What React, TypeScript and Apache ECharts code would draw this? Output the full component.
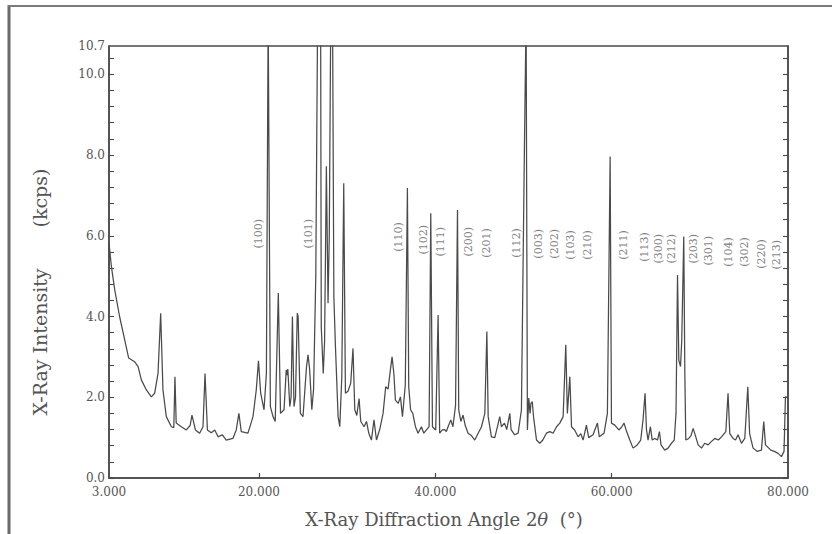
import React, { useEffect, useRef } from "react";
import * as echarts from "echarts";

// 2θ angle (degrees)
const angles: number[] = [
  3.0, 3.27, 3.65, 4.2, 4.78, 5.23, 5.9, 6.3, 6.67, 7.24, 7.8, 8.18, 8.56, 8.86, 9.12, 9.5,
  10.07, 10.35, 10.48, 10.62, 11.2, 11.77, 12.2, 12.41, 12.8, 13.28, 13.66, 13.89, 14.16, 14.6,
  14.99, 15.37, 15.85, 16.3, 17.05, 17.43, 17.73, 18.0, 18.76, 19.33, 19.7, 19.95, 20.2, 20.58,
  20.85, 21.05, 21.3, 21.6, 21.85, 22.2, 22.45, 22.85, 23.1, 23.2, 23.28, 23.5, 23.65, 23.8,
  23.98, 24.15, 24.35, 24.45, 24.7, 25.0, 25.4, 25.57, 25.75, 26.0, 26.2, 26.45, 26.66, 26.85,
  27.0, 27.07, 27.3, 27.45, 27.65, 27.84, 27.98, 28.15, 28.35, 28.5, 28.68, 28.98, 29.17, 29.4,
  29.62, 29.81, 30.1, 30.41, 30.67, 30.87, 31.1, 31.36, 31.55, 31.93, 32.2, 32.46, 32.76, 33.05,
  33.33, 33.7, 34.08, 34.38, 34.65, 34.91, 35.1, 35.3, 35.48, 35.8, 36.05, 36.28, 36.6, 36.84,
  36.99, 37.2, 37.45, 37.75, 38.05, 38.43, 38.7, 39.0, 39.3, 39.49, 39.68, 40.05, 40.32, 40.5,
  40.8, 41.07, 41.26, 41.45, 41.76, 42.0, 42.3, 42.52, 42.66, 42.9, 43.15, 43.4, 43.72, 44.1,
  44.48, 44.85, 45.24, 45.62, 45.85, 46.0, 46.37, 46.75, 47.05, 47.31, 47.5, 47.85, 48.1, 48.45,
  48.6, 49.0, 49.4, 49.77, 50.1, 50.3, 50.45, 50.6, 50.75, 50.85, 51.0, 51.15, 51.48, 51.85,
  52.2, 52.6, 53.0, 53.36, 53.75, 54.12, 54.5, 54.8, 54.98, 55.26, 55.45, 55.8, 56.2, 56.5,
  56.76, 57.14, 57.4, 57.89, 58.39, 58.6, 59.14, 59.52, 59.83, 59.98, 60.36, 60.81, 61.1, 61.41,
  61.7, 62.06, 62.43, 62.9, 63.3, 63.56, 63.79, 63.95, 64.13, 64.4, 64.6, 64.9, 65.2, 65.42,
  65.6, 66.02, 66.4, 66.78, 67.1, 67.3, 67.47, 67.62, 67.81, 67.95, 68.18, 68.3, 68.41, 68.75,
  69.0, 69.24, 69.5, 69.81, 70.19, 70.55, 70.94, 71.3, 71.7, 72.1, 72.46, 72.95, 73.2, 73.4,
  73.77, 74.05, 74.34, 74.72, 75.1, 75.44, 75.65, 76.04, 76.5, 76.99, 77.25, 77.45, 78.05, 78.45,
  78.88, 79.26, 79.55, 79.71, 80.0,
];

// Intensity (kcps); values above 10.7 run off the top of the frame
const intensity: number[] = [
  5.82, 5.24, 4.66, 4.0, 3.42, 2.97, 2.88, 2.76, 2.43, 2.18, 2.01, 2.1, 2.59, 4.08, 2.18, 1.52,
  1.27, 1.25, 2.51, 1.36, 1.27, 1.19, 1.3, 1.56, 1.19, 1.11, 1.27, 2.59, 1.19, 1.12,
  1.19, 1.02, 1.07, 0.94, 0.98, 1.19, 1.6, 1.15, 1.11, 1.52, 2.18, 2.9, 2.1, 1.69,
  2.6, 11.5, 1.77, 1.52, 1.4, 4.58, 1.6, 1.69, 2.68, 2.55, 2.7, 1.77, 2.0, 4.0,
  1.77, 2.0, 4.08, 4.0, 1.6, 1.52, 2.76, 3.05, 2.7, 1.69, 2.2, 5.0, 11.5, 12.0,
  11.5, 3.75, 2.59, 3.4, 7.72, 4.33, 6.0, 11.5, 11.5, 4.49, 3.25, 1.52, 1.27, 2.5,
  7.3, 2.1, 2.15, 2.35, 3.21, 1.69, 1.55, 1.97, 1.4, 1.27, 1.4, 1.11, 0.94, 1.44,
  0.94, 1.2, 1.6, 2.26, 2.2, 2.68, 3.0, 2.6, 1.93, 1.85, 2.01, 1.52, 2.3, 7.18,
  2.26, 1.69, 1.6, 1.27, 1.11, 1.27, 1.11, 1.19, 1.27, 6.56, 1.27, 1.19, 4.04, 1.11,
  1.19, 1.2, 1.15, 1.27, 1.44, 1.27, 1.8, 6.64, 1.69, 1.4, 1.56, 1.3, 1.11, 1.05,
  0.94, 1.1, 1.27, 1.6, 3.63, 1.52, 1.02, 1.0, 1.27, 1.52, 1.27, 1.36, 1.2, 1.6,
  1.2, 1.07, 1.11, 1.69, 8.0, 11.5, 1.19, 1.98, 1.6, 1.85, 1.89, 1.5, 0.94, 0.86,
  0.94, 1.11, 1.15, 1.11, 1.27, 1.36, 1.52, 3.3, 1.6, 2.51, 1.27, 1.19, 1.02, 1.1,
  0.94, 1.31, 1.0, 1.07, 1.36, 1.02, 1.11, 1.6, 7.96, 1.36, 1.31, 1.19, 1.25, 1.36,
  1.15, 0.94, 0.74, 0.82, 0.94, 1.44, 2.1, 1.2, 0.94, 1.27, 0.94, 0.98, 0.94, 1.15,
  0.82, 0.69, 0.74, 0.86, 0.94, 1.6, 5.03, 2.92, 2.76, 3.4, 5.98, 2.59, 0.94, 0.98,
  1.05, 1.23, 1.05, 0.82, 0.74, 0.86, 0.82, 0.9, 0.98, 0.94, 1.02, 1.15, 2.1, 1.1,
  0.98, 0.94, 1.07, 0.86, 0.98, 2.26, 1.1, 0.74, 0.66, 0.69, 1.4, 0.82, 0.69, 0.66,
  0.61, 0.53, 0.66, 2.01, 2.0,
];

// Miller-index annotations
const hklNames: string[] = [
  "(100)", "(101)", "(110)", "(102)", "(111)", "(200)", "(201)", "(112)", "(003)", "(202)", "(103)",
  "(210)", "(211)", "(113)", "(300)", "(212)", "(203)", "(301)", "(104)", "(302)", "(220)", "(213)",
];
const hklAngles: number[] = [
  20.0, 25.58, 35.8, 38.7, 40.6, 43.74, 45.83, 49.23, 51.68, 53.57, 55.39,
  57.22, 61.32, 63.78, 65.26, 66.81, 69.26, 70.96, 73.23, 75.12, 77.02, 78.72,
];
const hklLevels: number[] = [
  6.05, 6.05, 5.97, 5.9, 5.85, 5.85, 5.82, 5.82, 5.8, 5.8, 5.77,
  5.77, 5.77, 5.72, 5.68, 5.68, 5.68, 5.63, 5.6, 5.6, 5.55, 5.53,
];

const xLabelValues: number[] = [3, 20, 40, 60, 80];
const xTickValues: number[] = [20, 40, 60];
const yLabelValues: number[] = [0, 2, 4, 6, 8, 10, 10.7];
const yTickValues: number[] = [
  0, 0.4, 0.8, 1.2, 1.6, 2.0, 2.4, 2.8, 3.2, 3.6, 4.0, 4.4, 4.8, 5.2, 5.6, 6.0, 6.4, 6.8, 7.2,
  7.6, 8.0, 8.4, 8.8, 9.2, 9.6, 10.0, 10.4,
];

const FONT = "'DejaVu Serif', 'Liberation Serif', serif";
const INK = "#4a4a4a";
const TEXT = "#555";

export default function App() {
  const ref = useRef<HTMLDivElement>(null);

  useEffect(() => {
    if (!ref.current) return;
    const chart = echarts.init(ref.current, null, { renderer: "svg" });
    const lineData = angles.map((a, i) => [a, intensity[i]]);
    const hklData = hklNames.map((n, i) => [hklAngles[i], hklLevels[i], n]);

    chart.setOption({
      animation: false,
      backgroundColor: "#ffffff",
      grid: {
        left: 109,
        top: 46,
        right: 44,
        bottom: 56,
        show: true,
        borderColor: INK,
        borderWidth: 1.5,
        outerBoundsMode: "none",
      },
      xAxis: {
        type: "value",
        min: 3,
        max: 80,
        axisLine: { show: true, lineStyle: { color: INK, width: 1.5 } },
        axisTick: {
          show: true,
          inside: true,
          length: 5,
          customValues: xTickValues,
          lineStyle: { color: INK, width: 1.2 },
        },
        axisLabel: {
          customValues: xLabelValues,
          formatter: (v: number) => v.toFixed(3),
          fontFamily: FONT,
          fontSize: 12,
          color: TEXT,
          margin: 8,
        },
        splitLine: { show: false },
      },
      yAxis: [
        {
          type: "value",
          min: 0,
          max: 10.7,
          position: "left",
          axisLine: { show: true, lineStyle: { color: INK, width: 1.5 } },
          axisTick: {
            show: true,
            inside: true,
            length: 5,
            customValues: yTickValues,
            lineStyle: { color: INK, width: 1.1 },
          },
          axisLabel: {
            customValues: yLabelValues,
            formatter: (v: number) => v.toFixed(1),
            fontFamily: FONT,
            fontSize: 12,
            color: TEXT,
            margin: 4,
          },
          splitLine: { show: false },
        },
        {
          type: "value",
          min: 0,
          max: 10.7,
          position: "right",
          axisLine: { show: true, lineStyle: { color: INK, width: 1.5 } },
          axisTick: {
            show: true,
            inside: true,
            length: 5,
            customValues: yTickValues,
            lineStyle: { color: INK, width: 1.1 },
          },
          axisLabel: { show: false },
          splitLine: { show: false },
        },
      ],
      series: [
        {
          type: "line",
          data: lineData,
          showSymbol: false,
          clip: true,
          lineStyle: { color: INK, width: 1.25 },
          silent: true,
        },
        {
          type: "scatter",
          data: hklData,
          symbolSize: 1,
          itemStyle: { color: "rgba(0,0,0,0)" },
          silent: true,
          z: 5,
          label: {
            show: true,
            position: "inside",
            rotate: 90,
            formatter: (p: any) => p.data[2],
            fontFamily: FONT,
            fontSize: 11,
            color: "#5e5e5e",
          },
        },
      ],
      graphic: [
        {
          type: "line",
          shape: { x1: 9, y1: 5, x2: 9, y2: 534 },
          style: { stroke: "#6a6a6a", lineWidth: 3 },
          silent: true,
        },
        {
          type: "line",
          shape: { x1: 8, y1: 6, x2: 832, y2: 6 },
          style: { stroke: "#7a7a7a", lineWidth: 2 },
          silent: true,
        },
        {
          type: "text",
          x: 40,
          y: 342,
          rotation: Math.PI / 2,
          style: {
            text: "X-Ray Intensity",
            fontFamily: FONT,
            fontSize: 19,
            fill: TEXT,
            align: "center",
            verticalAlign: "middle",
          },
          silent: true,
        },
        {
          type: "text",
          x: 40,
          y: 198,
          rotation: Math.PI / 2,
          style: {
            text: "(kcps)",
            fontFamily: FONT,
            fontSize: 19,
            fill: TEXT,
            align: "center",
            verticalAlign: "middle",
          },
          silent: true,
        },
        {
          type: "text",
          x: 444,
          y: 519,
          style: {
            text: "{a|X-Ray Diffraction Angle 2}{b|θ}{a|  (°)}",
            rich: {
              a: { fontFamily: FONT, fontSize: 18, fill: TEXT },
              b: { fontFamily: FONT, fontSize: 18, fill: TEXT, fontStyle: "italic" },
            },
            align: "center",
            verticalAlign: "middle",
          },
          silent: true,
        },
      ],
    });

    return () => chart.dispose();
  }, []);

  return (
    <div
      ref={ref}
      style={{ position: "fixed", left: 0, top: 0, width: 832, height: 534, background: "#fff" }}
    />
  );
}
